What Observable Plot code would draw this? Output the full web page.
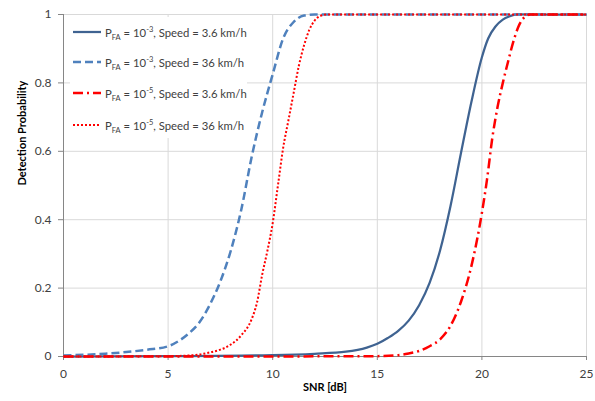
<!DOCTYPE html>
<html>
<head>
<meta charset="utf-8">
<script src="https://cdn.jsdelivr.net/npm/d3@7"></script>
<script src="https://cdn.jsdelivr.net/npm/@observablehq/plot@0.6"></script>
<style>
  body { margin: 0; background: #fff; }
  #wrap { position: relative; width: 595px; height: 401px; font-family: Lato, "Open Sans", sans-serif; }
  #legend { position: absolute; left: 70px; top: 17px; width: 177px; height: 121px; background: #fff; overflow: visible; }
  .row { position: absolute; left: 2px; height: 16px; display: flex; align-items: center; font-size: 11.3px; color: #404040; white-space: nowrap; }
  .row svg { margin-right: 3px; }
  sub, sup { font-size: 7.5px; line-height: 0; }
</style>
</head>
<body>
<div id="wrap"><div id="legend"></div></div>
<script>
// ---- data ----
const snrSolid = [0, 5, 10, 12, 13.5, 14.5, 15, 15.5, 16, 16.5, 17, 17.5, 18, 18.5, 19, 19.5, 20, 20.3, 20.65, 21, 21.3, 21.7, 25];
const pdSolid  = [0, 0.001, 0.004, 0.008, 0.014, 0.026, 0.037, 0.054, 0.075, 0.105, 0.15, 0.215, 0.31, 0.44, 0.595, 0.745, 0.875, 0.93, 0.965, 0.985, 0.994, 1, 1];

const snrDashed = [0, 1, 2, 3, 4, 5, 5.5, 6, 6.5, 7, 7.5, 8, 8.5, 9, 9.5, 10, 10.5, 11, 11.5, 12, 25];
const pdDashed  = [0.003, 0.005, 0.008, 0.013, 0.02, 0.03, 0.045, 0.068, 0.1, 0.152, 0.22, 0.31, 0.43, 0.585, 0.715, 0.825, 0.93, 0.978, 0.997, 1, 1];

const snrDashDot = [0, 14, 15, 16, 16.5, 17, 17.5, 18, 18.5, 19, 19.5, 20, 20.25, 20.5, 20.75, 21, 21.25, 21.5, 21.75, 22, 22.3, 25];
const pdDashDot  = [0, 0.0005, 0.001, 0.004, 0.009, 0.016, 0.03, 0.05, 0.09, 0.16, 0.265, 0.42, 0.52, 0.64, 0.73, 0.8, 0.862, 0.92, 0.965, 0.99, 1, 1];

const snrDotted = [0, 5, 6, 6.5, 7, 7.5, 8, 8.5, 9, 9.25, 9.5, 9.75, 10, 10.25, 10.5, 10.75, 11, 11.25, 11.5, 11.75, 12, 12.25, 12.6, 25];
const pdDotted  = [0, 0.001, 0.003, 0.006, 0.012, 0.02, 0.035, 0.062, 0.11, 0.158, 0.24, 0.31, 0.39, 0.5, 0.61, 0.69, 0.77, 0.85, 0.91, 0.955, 0.982, 0.995, 1, 1];

const xTicks = [0, 5, 10, 15, 20, 25];
const yTicks = [0, 0.2, 0.4, 0.6, 0.8, 1];
const yTickLabels = ["0", "0.2", "0.4", "0.6", "0.8", "1"];

const seriesNames = [
  {pfa: "-3", speed: "3.6"},
  {pfa: "-3", speed: "36"},
  {pfa: "-5", speed: "3.6"},
  {pfa: "-5", speed: "36"}
];

// ---- styles ----
const styles = [
  {stroke: "#3f6391", strokeWidth: 2.25, dash: null},
  {stroke: "#4f81bd", strokeWidth: 2.5, dash: "8,4"},
  {stroke: "#ff0000", strokeWidth: 2.5, dash: "10,4,2,4"},
  {stroke: "#ff0000", strokeWidth: 2, dash: "2,2"}
];

const toRows = (xs, ys) => xs.map((x, i) => ({x, y: ys[i]}));
const series = [
  toRows(snrSolid, pdSolid),
  toRows(snrDashed, pdDashed),
  toRows(snrDashDot, pdDashDot),
  toRows(snrDotted, pdDotted)
];

const chart = Plot.plot({
  width: 595,
  height: 401,
  marginLeft: 63,
  marginRight: 9,
  marginTop: 14,
  marginBottom: 45,
  style: {fontFamily: "Lato, 'Open Sans', sans-serif", fontSize: "12px", background: "#fff"},
  x: {domain: [0, 25]},
  y: {domain: [0, 1]},
  marks: [
    Plot.gridX(xTicks.slice(1), {stroke: "#d9d9d9", strokeOpacity: 1}),
    Plot.gridY(yTicks.slice(1), {stroke: "#d9d9d9", strokeOpacity: 1}),
    Plot.axisX(xTicks, {tickSize: 4, tickPadding: 9, label: null, stroke: "#868686", fill: "#404040", fontSize: 12}),
    Plot.axisY(yTicks, {tickSize: 5, tickPadding: 7, label: null, tickFormat: (d) => yTickLabels[yTicks.indexOf(d)], stroke: "#868686", fill: "#404040", fontSize: 12}),
    Plot.ruleX([0], {stroke: "#868686"}),
    Plot.ruleY([0], {stroke: "#868686"}),
    ...series.map((data, i) => Plot.line(data, {
      x: "x", y: "y", curve: "monotone-x",
      stroke: styles[i].stroke, strokeWidth: styles[i].strokeWidth,
      strokeDasharray: styles[i].dash, strokeLinecap: "butt", strokeLinejoin: "round"
    })),
    Plot.text(["SNR [dB]"], {frameAnchor: "bottom", dy: 34, fontWeight: "bold", fontSize: 11, fill: "#000"}),
    Plot.text(["Detection Probability"], {frameAnchor: "left", dx: -41, rotate: -90, fontWeight: "bold", fontSize: 11, fill: "#000"})
  ]
});

const wrap = document.getElementById("wrap");
wrap.insertBefore(chart, wrap.firstChild);

// ---- legend ----
const legend = document.getElementById("legend");
const rowTops = [7, 37, 68, 100];
seriesNames.forEach((s, i) => {
  const row = document.createElement("div");
  row.className = "row";
  row.style.top = rowTops[i] + "px";
  const st = styles[i];
  row.innerHTML =
    `<svg width="30" height="10"><line x1="1" x2="29" y1="5" y2="5" stroke="${st.stroke}" stroke-width="${st.strokeWidth}" ${st.dash ? `stroke-dasharray="${st.dash}"` : ""}/></svg>` +
    `<span>P<sub>FA</sub> = 10<sup>${s.pfa}</sup>, Speed = ${s.speed} km/h</span>`;
  legend.appendChild(row);
});
</script>
</body>
</html>
